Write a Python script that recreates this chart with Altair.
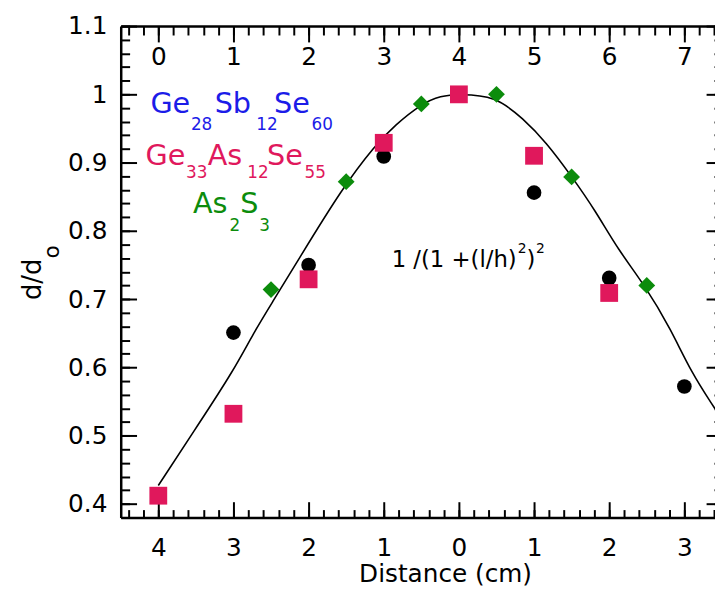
import altair as alt
import pandas as pd

# ---------------- data (top-axis position units) ----------------
curve_t = [0.0, 0.525, 1.0, 1.27, 1.51, 1.86, 2.45, 2.89, 3.15, 3.5, 3.76, 4.0,
           4.48, 4.86, 5.16, 5.5, 5.82, 6.12, 6.47, 6.82, 7.09, 7.41]
curve_v = [0.427, 0.515, 0.595, 0.651, 0.694, 0.757, 0.863, 0.926, 0.955, 0.986, 0.998, 1.0,
           0.998, 0.964, 0.930, 0.880, 0.829, 0.772, 0.721, 0.656, 0.593, 0.539]

circ_t = [1, 2, 3, 4, 5, 6, 7]                      # Ge28Sb12Se60
circ_v = [0.651, 0.750, 0.909, 1.0, 0.856, 0.731, 0.572]

sq_t = [0, 1, 2, 3, 4, 5, 6]                        # Ge33As12Se55
sq_v = [0.412, 0.532, 0.729, 0.929, 1.0, 0.910, 0.709]

dia_t = [1.5, 2.5, 3.5, 4.5, 5.5, 6.5]              # As2S3
dia_v = [0.714, 0.872, 0.986, 1.0, 0.879, 0.720]

major_x = [0, 1, 2, 3, 4, 5, 6, 7]
minor_x = [round(-0.4 + 0.2 * i, 2) for i in range(40)]
major_y = [0.4, 0.5, 0.6, 0.7, 0.8, 0.9, 1.0, 1.1]
minor_y = [round(0.38 + 0.02 * i, 2) for i in range(37)]

# legend text pieces
leg_text = ["Ge", "28", "Sb", "12", "Se", "60",
            "Ge", "33", "As", "12", "Se", "55",
            "As", "2", "S", "3"]
leg_series = ["b"] * 6 + ["p"] * 6 + ["g"] * 4
leg_sub = [0, 1, 0, 1, 0, 1, 0, 1, 0, 1, 0, 1, 0, 1, 0, 1]
leg_t = [-0.105, 0.434, 0.75, 1.303, 1.539, 2.039,
         -0.171, 0.368, 0.658, 1.184, 1.447, 1.947,
         0.461, 0.947, 1.092, 1.342]
leg_v = [0.973, 0.948, 0.973, 0.948, 0.973, 0.948,
         0.897, 0.877, 0.897, 0.877, 0.897, 0.877,
         0.826, 0.800, 0.826, 0.800]

# formula pieces
fx_text = ["1 /(1 +(l/h)", "2", ")", "2"]
fx_sup = [0, 1, 0, 1]
fx_t = [3.105, 4.783, 4.901, 5.026]
fx_v = [0.7465, 0.767, 0.7465, 0.767]

FONT = "DejaVu Sans"
BLUE, PINK, GREEN = "#1c1ce8", "#e0185c", "#0c8c0c"

curve_df = pd.DataFrame({"t": curve_t, "v": curve_v})
circ_df = pd.DataFrame({"t": circ_t, "v": circ_v})
sq_df = pd.DataFrame({"t": sq_t, "v": sq_v})
dia_df = pd.DataFrame({"t": dia_t, "v": dia_v})
leg_df = pd.DataFrame({"text": leg_text, "s": leg_series, "sub": leg_sub, "t": leg_t, "v": leg_v})
fx_df = pd.DataFrame({"text": fx_text, "sup": fx_sup, "t": fx_t, "v": fx_v})
ytitle_df = pd.DataFrame({"text": ["d/d", "o"], "sub": [0, 1], "t": [-1.557, -1.316], "v": [0.729, 0.7596]})

XS = alt.Scale(domain=[-0.5, 7.5], range=[0, 608], nice=False, zero=False)
YS = alt.Scale(domain=[0.38, 1.1], nice=False, zero=False)

BASE_AX = dict(grid=False, labelFont=FONT, labelFontSize=25, labelColor="black",
               tickColor="black", domainColor="black", tickWidth=2, domainWidth=2.5,
               labelFlush=False, labelOverlap=False, title=None)


def ax(**kw):
    d = dict(BASE_AX)
    d.update(kw)
    return alt.Axis(**d)


x_axes = [
    ax(orient="bottom", offset=-16, tickSize=16, values=major_x, labels=False, domain=False),
    ax(orient="bottom", offset=-8, tickSize=8, values=minor_x, labels=False, domain=False),
    ax(orient="bottom", offset=0, ticks=False, tickSize=0, values=major_x, labelPadding=38,
       labelBaseline="alphabetic", labelExpr="'' + abs(datum.value - 4)", domain=True,
       title="Distance (cm)", titleFont=FONT, titleFontSize=25, titleFontWeight="normal",
       titleColor="black", titleX=328, titleY=65, titleBaseline="alphabetic", titleAlign="center"),
    ax(orient="top", offset=-16, tickSize=16, values=major_x, labels=False, domain=False),
    ax(orient="top", offset=-9, tickSize=9, values=minor_x, labels=False, domain=False),
    ax(orient="top", offset=-39, ticks=False, tickSize=0, values=major_x, labelPadding=0,
       labelBaseline="alphabetic", domain=False),
    ax(orient="top", offset=0, ticks=False, tickSize=0, labels=False, domain=True, values=major_x),
]
y_axes = [
    ax(orient="left", offset=-16, tickSize=16, values=major_y, labels=False, domain=False),
    ax(orient="left", offset=-9, tickSize=9, values=minor_y, labels=False, domain=False),
    ax(orient="left", offset=0, ticks=False, tickSize=0, values=major_y, labelPadding=14,
       format=".1~f", domain=True),
    ax(orient="right", offset=-9, tickSize=16, values=major_y, labels=False, domain=False),
    ax(orient="right", offset=-1, tickSize=9, values=minor_y, labels=False, domain=False),
]

layers = []
for i, xa in enumerate(x_axes):
    ya = y_axes[i] if i < len(y_axes) else None
    layers.append(
        alt.Chart(curve_df).mark_point(opacity=0, size=1).encode(
            x=alt.X("t:Q", scale=XS, axis=xa),
            y=alt.Y("v:Q", scale=YS, axis=ya),
        )
    )


def xy():
    return dict(x=alt.X("t:Q", scale=XS, axis=None), y=alt.Y("v:Q", scale=YS, axis=None))


curve = alt.Chart(curve_df).mark_line(color="black", strokeWidth=1.6, interpolate="basis").encode(**xy())
circles = alt.Chart(circ_df).mark_circle(color="black", size=220, opacity=1).encode(**xy())
squares = alt.Chart(sq_df).mark_square(color=PINK, size=324, opacity=1).encode(**xy())
diamonds = alt.Chart(dia_df).mark_point(shape="diamond", filled=True, color=GREEN, size=289, opacity=1).encode(**xy())

color_enc = alt.Color("s:N", scale=alt.Scale(domain=["b", "p", "g"], range=[BLUE, PINK, GREEN]), legend=None)
leg_main = alt.Chart(leg_df).transform_filter("datum.sub == 0").mark_text(
    align="left", baseline="alphabetic", font=FONT, fontSize=29).encode(text="text:N", color=color_enc, **xy())
leg_subs = alt.Chart(leg_df).transform_filter("datum.sub == 1").mark_text(
    align="left", baseline="alphabetic", font=FONT, fontSize=17).encode(text="text:N", color=color_enc, **xy())

fx_main = alt.Chart(fx_df).transform_filter("datum.sup == 0").mark_text(
    align="left", baseline="alphabetic", font=FONT, fontSize=23, color="black").encode(text="text:N", **xy())
fx_sups = alt.Chart(fx_df).transform_filter("datum.sup == 1").mark_text(
    align="left", baseline="alphabetic", font=FONT, fontSize=14, color="black").encode(text="text:N", **xy())

yt_main = alt.Chart(ytitle_df).transform_filter("datum.sub == 0").mark_text(
    align="center", baseline="alphabetic", font=FONT, fontSize=26, angle=270, color="black").encode(text="text:N", **xy())
yt_sub = alt.Chart(ytitle_df).transform_filter("datum.sub == 1").mark_text(
    align="left", baseline="alphabetic", font=FONT, fontSize=22, angle=270, color="black").encode(text="text:N", **xy())

chart = alt.layer(
    *layers, curve, circles, squares, diamonds, leg_main, leg_subs, fx_main, fx_sups, yt_main, yt_sub
).resolve_axis(x="independent", y="independent").properties(
    width=601, height=497,
    autosize=alt.AutoSizeParams(type="none"),
    padding={"left": 114, "top": 15, "right": 0, "bottom": 71},
).configure_view(strokeWidth=0).configure(background="white")

chart.save("out.html", embed_options={"renderer": "svg", "actions": False})
